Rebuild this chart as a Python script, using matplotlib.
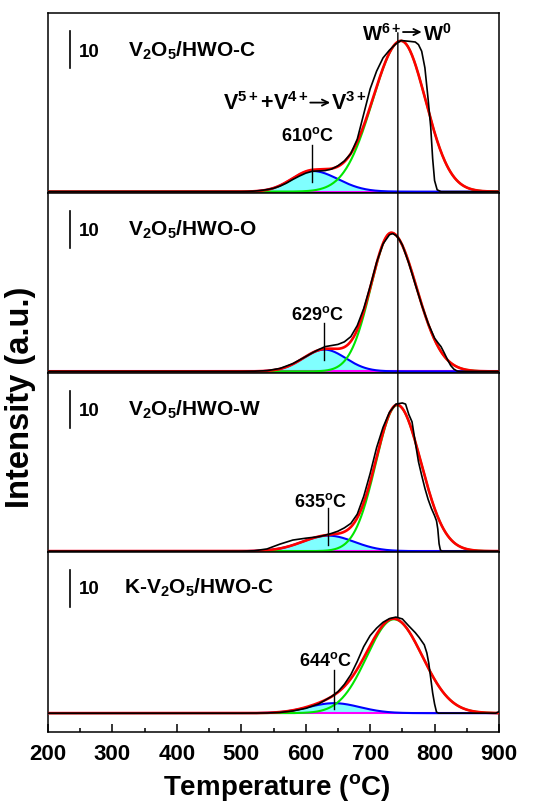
import numpy as np
import matplotlib
matplotlib.use("Agg")
import matplotlib.pyplot as plt
from matplotlib.patches import ConnectionPatch

plt.rcParams['font.family'] = ['Liberation Sans', 'DejaVu Sans']
plt.rcParams['font.weight'] = 'bold'
plt.rcParams['mathtext.fontset'] = 'custom'
plt.rcParams['mathtext.rm'] = 'Liberation Sans:bold'
plt.rcParams['mathtext.it'] = 'Liberation Sans:bold'
plt.rcParams['mathtext.bf'] = 'Liberation Sans:bold'
plt.rcParams['mathtext.default'] = 'bf'

# sample names, top to bottom
samples = [r'V$_2$O$_5$/HWO-C', r'V$_2$O$_5$/HWO-O', r'V$_2$O$_5$/HWO-W', r'K-V$_2$O$_5$/HWO-C']

# fitted peaks: V reduction (low T) and W reduction (high T)
v_center = [610, 629, 635, 644]
v_amp = [5.6, 5.9, 4.2, 2.7]
v_sig_lo = [32, 33, 40, 40]
v_sig_hi = [40, 33, 40, 40]
w_center = [748, 733, 742, 737]
w_amp = [40.8, 37.5, 39.5, 25.4]
w_sig_lo = [44, 32, 33, 42]
w_sig_hi = [38, 39, 37, 44]
w_line_T = 743

# measured H2-TPR profiles
t_c = [200, 300, 400, 500, 510, 520, 530, 540, 550, 560, 570, 580, 590, 600, 610, 620, 630, 640,
       650, 660, 670, 680, 690, 700, 710, 720, 730, 740, 748, 760, 770, 775, 780, 785, 790, 794,
       797, 800, 804, 810, 850, 900]
i_c = [0, 0, 0, 0, 0.05, 0.15, 0.3, 0.55, 0.9, 1.5, 2.3, 3.3, 4.2, 5.0, 5.5, 5.6, 5.7, 6.1,
       7.0, 8.3, 10.3, 14.2, 21.0, 27.8, 32.6, 36.2, 38.3, 40.0, 40.9, 40.7, 40.5, 39.8, 38.0, 33.5, 25.0, 17.5,
       9.0, 3.0, 0.5, 0, 0, 0]
t_o = [200, 300, 400, 500, 520, 540, 560, 580, 600, 610, 620, 630, 640, 650, 660, 670, 680, 690,
       700, 710, 720, 730, 735, 740, 745, 750, 760, 770, 780, 790, 800, 805, 810, 815, 820, 825,
       830, 835, 840, 900]
i_o = [0, 0, 0, 0, 0.05, 0.2, 0.8, 2.1, 4.0, 5.0, 5.9, 6.7, 7.0, 7.3, 8.0, 9.4, 12.4, 17.0,
       23.0, 29.5, 34.5, 37.0, 37.3, 36.8, 35.8, 34.2, 29.3, 23.6, 18.0, 13.0, 9.0, 7.8, 6.7, 5.0, 3.2, 1.6,
       0.6, 0.1, 0, 0]
t_w = [200, 300, 400, 500, 520, 540, 560, 580, 600, 610, 620, 630, 640, 650, 660, 670, 680, 690,
       700, 710, 720, 730, 740, 750, 755, 760, 765, 770, 775, 780, 785, 790, 795, 800, 803, 805,
       807, 809, 812, 900]
i_w = [0, 0, 0, 0, 0.1, 0.6, 1.9, 3.0, 3.5, 3.7, 3.9, 4.3, 4.8, 5.4, 6.3, 7.5, 10.0, 14.8,
       21.0, 28.0, 33.5, 37.6, 39.8, 40.1, 39.8, 37.0, 35.0, 29.5, 24.2, 20.5, 17.0, 14.0, 11.6, 9.6, 8.2, 6.0,
       2.0, 0.3, 0, 0]
t_k = [200, 300, 400, 500, 540, 560, 580, 600, 620, 640, 650, 660, 670, 680, 690, 700, 710, 720,
       730, 740, 750, 760, 770, 776, 784, 788, 791, 794, 797, 800, 803, 806, 850, 895, 900]
i_k = [0, 0, 0, 0, 0.05, 0.2, 0.6, 1.3, 2.5, 4.5, 5.8, 7.8, 10.4, 14.0, 18.0, 21.0, 23.0, 24.6,
       25.6, 26.0, 25.5, 23.6, 21.8, 20.5, 18.5, 16.3, 13.5, 9.5, 5.5, 2.5, 0.3, 0, 0, 0, 0.4]
t_exp = [t_c, t_o, t_w, t_k]
i_exp = [i_c, i_o, i_w, i_k]

# layout of the four stacked panels
ylims = [(-0.3, 48.35), (-0.3, 48.35), (-0.3, 48.35), (-5.1, 43.55)]
title_x = [324, 324, 324, 318]
title_drop = [11.6, 11.4, 11.4, 10.9]
lab_dx = [-7, -11, -12, -14]
lab_base = [13.9, 14.3, 12.2, 13.0]
tick_lo = [2.7, 3.1, 1.7, 1.2]
tick_hi = [12.7, 13.2, 11.6, 11.6]


def split_gauss(t, c, a, s_lo, s_hi):
    s = np.where(t < c, s_lo, s_hi)
    return a * np.exp(-(t - c) ** 2 / (2.0 * s ** 2))


def reaction(ax, lhs, rhs, x0, x1, ybase, yarrow, size):
    # "lhs -> rhs" written as two texts joined by a drawn arrow
    ax.text(x0 - 2, ybase, lhs, fontsize=size, ha='right', va='baseline')
    ax.text(x1 + 2, ybase, rhs, fontsize=size, ha='left', va='baseline')
    ax.annotate('', xy=(x1, yarrow), xytext=(x0, yarrow),
                arrowprops=dict(arrowstyle='->,head_length=0.45,head_width=0.22',
                                lw=1.3, color='k', shrinkA=0, shrinkB=0))


tt = np.arange(200, 901, 1.0)

fig = plt.figure(figsize=(5.44, 8.04), dpi=100)
left, width = 48 / 544, 451 / 544
top, ph = 1 - 14 / 804, 719.0 / 804 / 4
axes = []
for k in range(4):
    ax = fig.add_axes([left, top - (k + 1) * ph, width, ph])
    axes.append(ax)
    blue = split_gauss(tt, v_center[k], v_amp[k], v_sig_lo[k], v_sig_hi[k])
    green = split_gauss(tt, w_center[k], w_amp[k], w_sig_lo[k], w_sig_hi[k])
    ax.fill_between(tt, 0, blue, color='#80ffff', lw=0, zorder=1)
    ax.axhline(0, color='#ff00ff', lw=1.5, zorder=2)
    ax.plot(tt, blue, color='#0000ff', lw=1.5, zorder=3)
    ax.plot(tt, green, color='#00e600', lw=1.5, zorder=3)
    ax.plot(tt, blue + green, color='#ff0000', lw=1.9, zorder=4)
    ax.plot(t_exp[k], i_exp[k], color='k', lw=1.2, zorder=5)

    ax.set_xlim(200, 900)
    ax.set_ylim(*ylims[k])
    ytop = ylims[k][1]
    for s in ax.spines.values():
        s.set_linewidth(1.1)
    ax.set_yticks([])

    # 10-unit intensity scale bar and sample name
    ax.plot([234, 234], [ytop - 14.9, ytop - 4.9], color='k', lw=1.2)
    ax.text(248, ytop - title_drop[k], '10', fontsize=13.5, va='baseline')
    ax.text(title_x[k], ytop - title_drop[k], samples[k], fontsize=15, va='baseline')

    # marker of the V reduction peak
    ax.plot([v_center[k], v_center[k]], [tick_lo[k], tick_hi[k]], color='k', lw=1.0, zorder=6)
    ax.text(v_center[k] + lab_dx[k], lab_base[k], '%d$^{o}$C' % v_center[k],
            fontsize=13, ha='center', va='baseline')

    if k < 3:
        ax.tick_params(axis='x', bottom=False, labelbottom=False)

ax1, ax4 = axes[0], axes[3]
reaction(ax1, r'W$^{6+}$', r'W$^{0}$', 751, 780, 41.2, 43.2, 14.5)
reaction(ax1, r'V$^{5+}$+V$^{4+}$', r'V$^{3+}$', 607, 638, 22.4, 24.1, 15.5)

ax4.set_xticks(np.arange(200, 901, 100))
ax4.set_xticks(np.arange(250, 900, 100), minor=True)
ax4.tick_params(axis='x', which='major', direction='in', length=6, width=1.1, labelsize=16, pad=8)
ax4.tick_params(axis='x', which='minor', direction='in', length=3, width=1.1)

con = ConnectionPatch(xyA=(w_line_T, 43.0), coordsA=ax1.transData,
                      xyB=(w_line_T, 26.0), coordsB=ax4.transData, color='k', lw=1.0, zorder=10)
fig.add_artist(con)

fig.text(0.509, 1 - 795 / 804, r'Temperature ($^{o}$C)', fontsize=20, ha='center', va='baseline')
fig.text(0.037, 0.506, 'Intensity (a.u.)', fontsize=23.5, rotation=90, ha='center', va='center')

fig.savefig('out.png', dpi=100)
